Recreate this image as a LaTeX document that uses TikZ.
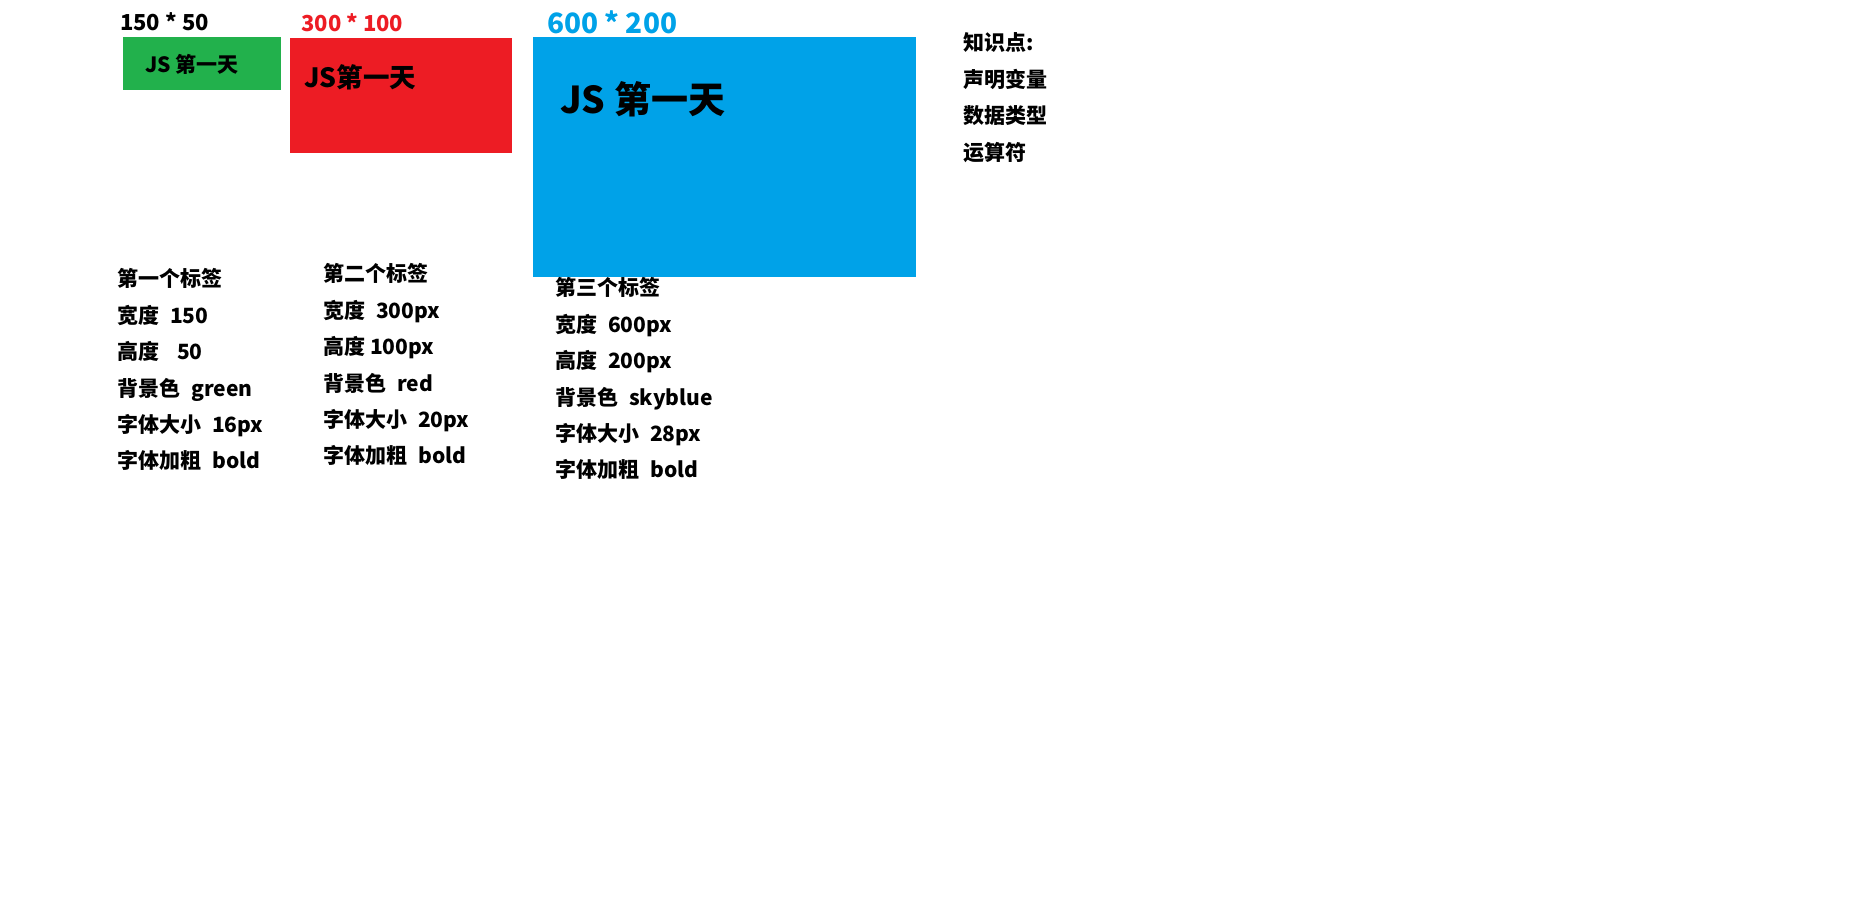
\documentclass[tikz,border=0pt]{standalone}
\usepackage{fontspec}
\setmainfont{Noto Sans CJK SC}
\usetikzlibrary{positioning}
\definecolor{tagGreen}{HTML}{22B14C}
\definecolor{tagRed}{HTML}{ED1C24}
\definecolor{tagBlue}{HTML}{00A2E8}
\newcommand{\pxfont}[1]{\fontsize{#1}{#1}\selectfont\bfseries}
\newcommand{\twosp}{\hspace{11pt}}

\begin{document}
\begin{tikzpicture}[
  x=1pt, y=-1pt,
  tag/.style={anchor=north west, inner sep=0pt, outer sep=0pt},
  tagtext/.style={inner sep=0pt},
  size/.style={inner sep=0pt},
  item/.style={inner sep=0pt, font=\pxfont{21}, text height=17.4pt, text depth=1.5pt}
]
\useasboundingbox (0,0) rectangle (1850,916);

% the three tags
\node[tag, fill=tagGreen, minimum width=158pt, minimum height=53pt] (green) at (123,37) {};
\node[tag, fill=tagRed, minimum width=222pt, minimum height=115pt] (red) at (290,38) {};
\node[tag, fill=tagBlue, minimum width=383pt, minimum height=240pt] (blue) at (533,37) {};

\node[tagtext, font=\pxfont{21}, text height=17.4pt, text depth=1.5pt,
  below right=18pt and 22pt of green.north west] (greenText) {JS 第一天};
\node[tagtext, font=\pxfont{26.5}, text height=22pt, text depth=1.9pt,
  below right=27pt and 14pt of red.north west] (redText) {JS第一天};
\node[tagtext, font=\pxfont{37}, text height=30.7pt, text depth=2.6pt,
  below right=46pt and 27pt of blue.north west] (blueText) {JS 第一天};

% sizes
\node[size, font=\pxfont{22}, above right=6pt and -3pt of green.north west] (greenSize) {150 * 50};
\node[size, font=\pxfont{22}, text=tagRed, above right=6pt and 11pt of red.north west] (redSize) {300 * 100};
\node[size, font=\pxfont{28}, text=tagBlue, above right=3pt and 14pt of blue.north west] (blueSize) {600 * 200};

% first tag
\node[item, anchor=west] (a1) at (117,279) {第一个标签};
\node[item, below right=17.1pt and 0pt of a1.south west] (a2) {宽度\twosp 150};
\node[item, below right=17.1pt and 0pt of a2.south west] (a3) {高度\hspace{18pt}50};
\node[item, below right=17.1pt and 0pt of a3.south west] (a4) {背景色\twosp green};
\node[item, below right=17.1pt and 0pt of a4.south west] (a5) {字体大小\twosp 16px};
\node[item, below right=17.1pt and 0pt of a5.south west] (a6) {字体加粗\twosp bold};

% second tag
\node[item, anchor=west] (b1) at (323,274) {第二个标签};
\node[item, below right=17.1pt and 0pt of b1.south west] (b2) {宽度\twosp 300px};
\node[item, below right=17.1pt and 0pt of b2.south west] (b3) {高度 100px};
\node[item, below right=17.1pt and 0pt of b3.south west] (b4) {背景色\twosp red};
\node[item, below right=17.1pt and 0pt of b4.south west] (b5) {字体大小\twosp 20px};
\node[item, below right=17.1pt and 0pt of b5.south west] (b6) {字体加粗\twosp bold};

% third tag
\node[item, anchor=west] (c1) at (555,288) {第三个标签};
\node[item, below right=17.1pt and 0pt of c1.south west] (c2) {宽度\twosp 600px};
\node[item, below right=17.1pt and 0pt of c2.south west] (c3) {高度\twosp 200px};
\node[item, below right=17.1pt and 0pt of c3.south west] (c4) {背景色\twosp skyblue};
\node[item, below right=17.1pt and 0pt of c4.south west] (c5) {字体大小\twosp 28px};
\node[item, below right=17.1pt and 0pt of c5.south west] (c6) {字体加粗\twosp bold};

% knowledge points
\node[item, anchor=west] (k1) at (963,43) {知识点:};
\node[item, below right=17.1pt and 0pt of k1.south west] (k2) {声明变量};
\node[item, below right=17.1pt and 0pt of k2.south west] (k3) {数据类型};
\node[item, below right=17.1pt and 0pt of k3.south west] (k4) {运算符};
\end{tikzpicture}
\end{document}
